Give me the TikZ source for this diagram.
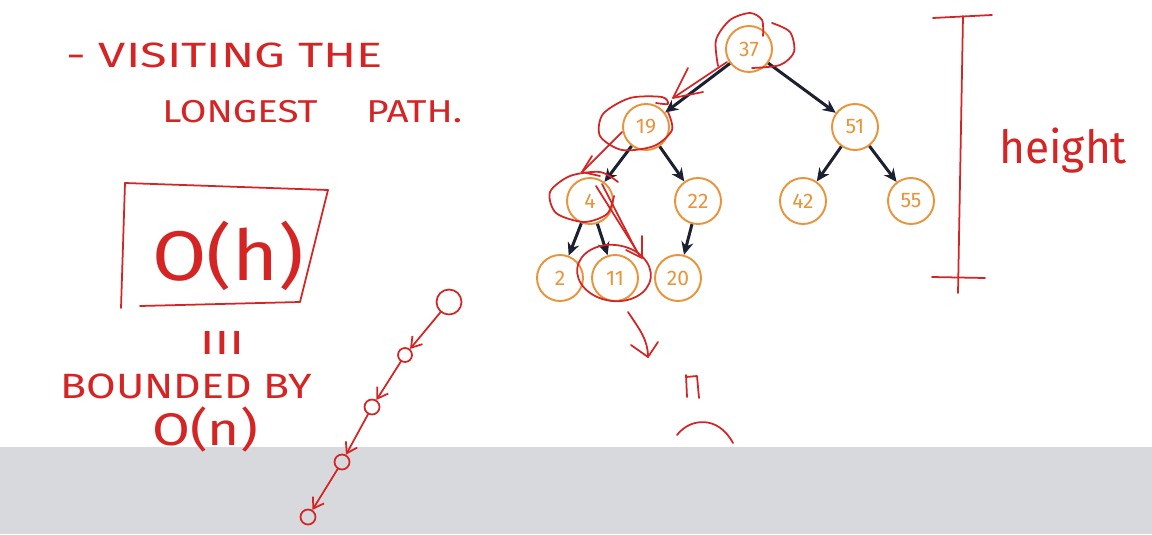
\documentclass[tikz,border=0pt]{standalone}
\usepackage{fontspec}
\setmainfont{Fira Sans}
\setsansfont{Fira Sans}
\usepackage{tikz}
\usetikzlibrary{arrows.meta, positioning, calc}
\definecolor{nodeorange}{RGB}{232,148,58}
\definecolor{edgenavy}{RGB}{28,32,48}
\definecolor{inkred}{RGB}{212,36,36}
\definecolor{bandgray}{RGB}{216,217,220}
\newcommand{\wide}[2]{\scalebox{#1}[1]{#2}}

\begin{document}
\begin{tikzpicture}[
  x=0.02cm, y=-0.02cm,
  tnode/.style={draw=nodeorange, circle, line width=1.1pt, minimum size=9.2mm,
                inner sep=0pt, text=nodeorange, font=\sffamily\fontsize{12}{12}\selectfont},
  edge/.style={-{Stealth[length=2.6mm, width=2.4mm]}, line width=1.7pt, draw=edgenavy},
  ink/.style={draw=inkred, line width=1pt, line cap=round, line join=round},
  inkarr/.style={ink, -{Straight Barb[length=2mm, width=2.6mm]}},
  dot/.style={ink, circle, inner sep=0pt},
  hand/.style={text=inkred, inner sep=0pt}
]
% gray strip along the bottom, frame fixed to the screenshot
\fill[bandgray] (0,447) rectangle (1152,534);
\useasboundingbox (0,0) rectangle (1152,534);

% the tree
\node[tnode] (n37) at (749,49) {37};
\node[tnode] (n19) at (646,127) {19};
\node[tnode] (n51) at (855,127) {51};
\node[tnode] (n4) at (590,201) {4};
\node[tnode] (n22) at (698,201) {22};
\node[tnode] (n42) at (803,201) {42};
\node[tnode] (n55) at (911,201) {55};
\node[tnode] (n2) at (560,278) {2};
\node[tnode] (n11) at (615,278) {11};
\node[tnode] (n20) at (678,278) {20};

\draw[edge] (n37) -- (n19);
\draw[edge] (n37) -- (n51);
\draw[edge] (n19) -- (n4);
\draw[edge] (n19) -- (n22);
\draw[edge] (n51) -- (n42);
\draw[edge] (n51) -- (n55);
\draw[edge] (n4) -- (n2);
\draw[edge] (n4) -- (n11);
\draw[edge] (n22) -- (n20);

% scribbles over the visited path
\draw[ink] plot[smooth] coordinates {(718,66) (716,40) (730,20) (750,13) (762,20) (763,36)};
\draw[ink] plot[smooth] coordinates {(772,23) (790,32) (794,52) (780,65) (752,68)};
\draw[ink] (727,62) -- (673,98);
\draw[ink] (688,68) -- (673,98) -- (703,92);
\draw[ink] plot[smooth] coordinates {(656,103) (668,104) (662,97) (630,98) (603,114) (600,136) (622,150) (654,146) (672,130) (668,112)};
\draw[ink] (622,132) -- (582,172);
\draw[ink] (592,156) -- (582,172) -- (600,176);
\draw[ink] plot[smooth] coordinates {(618,182) (600,172) (570,176) (550,192) (556,213) (584,222) (607,214) (614,196)};
\draw[ink] (596,186) -- (640,256);
\draw[ink] (602,184) -- (636,250);
\draw[ink] (642,236) -- (642,258) -- (626,250);
\draw[ink, rotate around={-8:(614,273)}] (614,273) ellipse [x radius=37, y radius=28];

% under the tree
\coordinate (dn) at (628,312);
\coordinate (dntip) at (648,357);
\draw[ink] (dn) .. controls (640,330) and (648,340) .. (dntip);
\draw[ink] (631,345) -- (dntip) -- (658,342);
\draw[ink] (686,375) -- (687,397);
\draw[ink] (686,377) -- (697,376) -- (699,398);
\draw[ink] (677,435) .. controls (690,418) and (718,415) .. (733,443);

% height bar
\coordinate (htop) at (963,16);
\coordinate (hbot) at (958,293);
\draw[ink] (933,18) -- (992,15);
\draw[ink] (htop) -- (hbot);
\draw[ink] (932,277) -- (985,278);
\node[hand, font=\sffamily\fontsize{26}{26}\selectfont, anchor=base west] (hgt) at (999,163) {\wide{0.97}{height}};

% notes on the left
\node[hand, font=\sffamily\fontsize{20}{20}\selectfont, anchor=base west] (vis1) at (66,67) {\wide{1.39}{- VISITING THE}};
\node[hand, font=\sffamily\fontsize{18}{18}\selectfont, anchor=base west] (vis2) at (162,122) {\wide{1.22}{LONGEST\quad\ PATH.}};
\node[hand, font=\sffamily\fontsize{40}{40}\selectfont] (oh) at (228,256) {\wide{1.12}{O(h)}};
\draw[ink] (125,183) -- (328,190) -- (300,302) -- (140,306);
\draw[ink] (125,183) -- (121,308);
\node[hand, font=\sffamily\fontsize{19}{19}\selectfont] (eqv) at (222,343) {\wide{1.5}{III}};
\node[hand, font=\sffamily\fontsize{20}{20}\selectfont, anchor=base west] (bnd) at (60,398) {\wide{1.22}{BOUNDED BY}};
\node[hand, font=\sffamily\fontsize{26}{26}\selectfont] (on) at (205,430) {\wide{1.2}{O(n)}};

% the degenerate chain
\node[dot, minimum size=5mm] (c1) at (449,302) {};
\node[dot, minimum size=2.8mm] (c2) at (405,355) {};
\node[dot, minimum size=3mm] (c3) at (372,407) {};
\node[dot, minimum size=3mm] (c4) at (342,462) {};
\node[dot, minimum size=3mm] (c5) at (308,517) {};
\draw[inkarr] (c1) -- (c2);
\draw[inkarr] (c2) -- (c3);
\draw[inkarr] (c3) -- (c4);
\draw[inkarr] (c4) -- (c5);
\end{tikzpicture}
\end{document}
